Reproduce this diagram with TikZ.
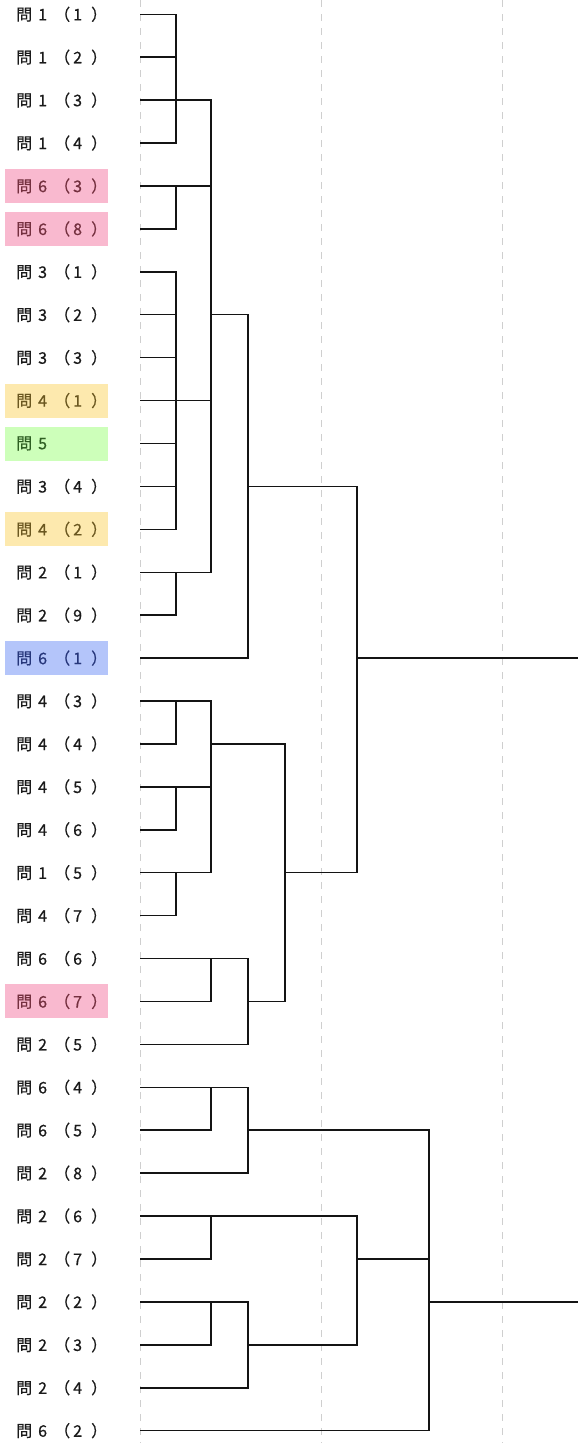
\documentclass[tikz,border=0pt]{standalone}
\usepackage{fontspec}
\setmainfont{Noto Sans CJK JP}[FakeBold=0.7]

\definecolor{labtext}{HTML}{1A1A1A}
\definecolor{pinkbg}{HTML}{F9B9CF}
\definecolor{pinktx}{HTML}{74303F}
\definecolor{yellowbg}{HTML}{FDE9AE}
\definecolor{yellowtx}{HTML}{6A5720}
\definecolor{greenbg}{HTML}{CDFFBA}
\definecolor{greentx}{HTML}{2E5F22}
\definecolor{bluebg}{HTML}{B4C5FA}
\definecolor{bluetx}{HTML}{26367A}
\definecolor{gridgray}{HTML}{CFCFCF}

% label text: 問 + question number + (sub-number) in fixed cells
\newcommand\toilabel[2]{\makebox[103pt][l]{\hspace*{11pt}\makebox[22pt][l]{問}\makebox[16pt][l]{#1}\makebox[19pt][l]{（}\makebox[18pt][l]{#2}）}}
\newcommand\toionly[1]{\makebox[103pt][l]{\hspace*{11pt}\makebox[22pt][l]{問}#1}}

\tikzset{
  lab/.style={anchor=west, inner sep=0pt, minimum width=103pt, minimum height=34pt,
              font=\fontsize{16}{16}\selectfont, text=labtext},
  hlpink/.style={fill=pinkbg, text=pinktx},
  hlyellow/.style={fill=yellowbg, text=yellowtx},
  hlgreen/.style={fill=greenbg, text=greentx},
  hlblue/.style={fill=bluebg, text=bluetx},
  grid line/.style={draw=gridgray, line width=0.9pt, dash pattern=on 7pt off 7pt},
  tree/.style={draw=black!92, line width=1.5pt, line join=miter},
}

\begin{document}
\begin{tikzpicture}[x=1pt, y=-1pt]
\useasboundingbox (0,0) rectangle (578,1443);

% axis guides
\draw[grid line] (140,0) -- (140,1443);
\draw[grid line] (321,0) -- (321,1443);
\draw[grid line] (502,0) -- (502,1443);

% leaf positions
\foreach \i in {0,...,33}
  \coordinate (L\i) at (140,{14.3+42.92*\i});
\coordinate (lx) at (5,0);

% labels
\node[lab]          (T0)  at (lx |- L0)  {\toilabel{1}{1}};
\node[lab]          (T1)  at (lx |- L1)  {\toilabel{1}{2}};
\node[lab]          (T2)  at (lx |- L2)  {\toilabel{1}{3}};
\node[lab]          (T3)  at (lx |- L3)  {\toilabel{1}{4}};
\node[lab,hlpink]   (T4)  at (lx |- L4)  {\toilabel{6}{3}};
\node[lab,hlpink]   (T5)  at (lx |- L5)  {\toilabel{6}{8}};
\node[lab]          (T6)  at (lx |- L6)  {\toilabel{3}{1}};
\node[lab]          (T7)  at (lx |- L7)  {\toilabel{3}{2}};
\node[lab]          (T8)  at (lx |- L8)  {\toilabel{3}{3}};
\node[lab,hlyellow] (T9)  at (lx |- L9)  {\toilabel{4}{1}};
\node[lab,hlgreen]  (T10) at (lx |- L10) {\toionly{5}};
\node[lab]          (T11) at (lx |- L11) {\toilabel{3}{4}};
\node[lab,hlyellow] (T12) at (lx |- L12) {\toilabel{4}{2}};
\node[lab]          (T13) at (lx |- L13) {\toilabel{2}{1}};
\node[lab]          (T14) at (lx |- L14) {\toilabel{2}{9}};
\node[lab,hlblue]   (T15) at (lx |- L15) {\toilabel{6}{1}};
\node[lab]          (T16) at (lx |- L16) {\toilabel{4}{3}};
\node[lab]          (T17) at (lx |- L17) {\toilabel{4}{4}};
\node[lab]          (T18) at (lx |- L18) {\toilabel{4}{5}};
\node[lab]          (T19) at (lx |- L19) {\toilabel{4}{6}};
\node[lab]          (T20) at (lx |- L20) {\toilabel{1}{5}};
\node[lab]          (T21) at (lx |- L21) {\toilabel{4}{7}};
\node[lab]          (T22) at (lx |- L22) {\toilabel{6}{6}};
\node[lab,hlpink]   (T23) at (lx |- L23) {\toilabel{6}{7}};
\node[lab]          (T24) at (lx |- L24) {\toilabel{2}{5}};
\node[lab]          (T25) at (lx |- L25) {\toilabel{6}{4}};
\node[lab]          (T26) at (lx |- L26) {\toilabel{6}{5}};
\node[lab]          (T27) at (lx |- L27) {\toilabel{2}{8}};
\node[lab]          (T28) at (lx |- L28) {\toilabel{2}{6}};
\node[lab]          (T29) at (lx |- L29) {\toilabel{2}{7}};
\node[lab]          (T30) at (lx |- L30) {\toilabel{2}{2}};
\node[lab]          (T31) at (lx |- L31) {\toilabel{2}{3}};
\node[lab]          (T32) at (lx |- L32) {\toilabel{2}{4}};
\node[lab]          (T33) at (lx |- L33) {\toilabel{6}{2}};

% merge heights (x of each bracket's vertical)
\coordinate (va) at (176,0);
\coordinate (vb) at (211,0);
\coordinate (vc) at (248,0);
\coordinate (vd) at (285,0);
\coordinate (ve) at (357,0);
\coordinate (vf) at (429,0);
\coordinate (edge) at (578,0);

% internal nodes of the dendrogram
\coordinate (n1)  at (va |- L2);
\coordinate (n2)  at (va |- L4);
\coordinate (n3)  at (va |- L9);
\coordinate (n4)  at (va |- L13);
\coordinate (n5)  at (vb |- L7);
\coordinate (n6)  at (vc |- L11);
\coordinate (n7)  at (va |- L16);
\coordinate (n8)  at (va |- L18);
\coordinate (n9)  at (va |- L20);
\coordinate (n10) at (vb |- L17);
\coordinate (n11) at (vb |- L22);
\coordinate (n12) at (vc |- L23);
\coordinate (n13) at (vd |- L20);
\coordinate (n14) at (ve |- L15);
\coordinate (n15) at (vb |- L25);
\coordinate (n16) at (vc |- L26);
\coordinate (n17) at (vb |- L28);
\coordinate (n18) at (vb |- L30);
\coordinate (n19) at (vc |- L31);
\coordinate (n20) at (ve |- L29);
\coordinate (n21) at (vf |- L30);
\coordinate (R1)  at (edge |- n14);
\coordinate (R2)  at (edge |- n21);

% branches: each child joins its parent with an elbow
\foreach \c/\p in {L0/n1, L1/n1, L2/n1, L3/n1,
                   L4/n2, L5/n2,
                   L6/n3, L7/n3, L8/n3, L9/n3, L10/n3, L11/n3, L12/n3,
                   L13/n4, L14/n4,
                   n1/n5, n2/n5, n3/n5, n4/n5,
                   n5/n6, L15/n6,
                   L16/n7, L17/n7, L18/n8, L19/n8, L20/n9, L21/n9,
                   n7/n10, n8/n10, n9/n10,
                   L22/n11, L23/n11, n11/n12, L24/n12,
                   n10/n13, n12/n13,
                   n6/n14, n13/n14,
                   L25/n15, L26/n15, n15/n16, L27/n16,
                   L28/n17, L29/n17,
                   L30/n18, L31/n18, n18/n19, L32/n19,
                   n17/n20, n19/n20,
                   n16/n21, n20/n21, L33/n21}
  \draw[tree] (\c) -| (\p);

\draw[tree] (n14) -- (R1);
\draw[tree] (n21) -- (R2);
\end{tikzpicture}
\end{document}
